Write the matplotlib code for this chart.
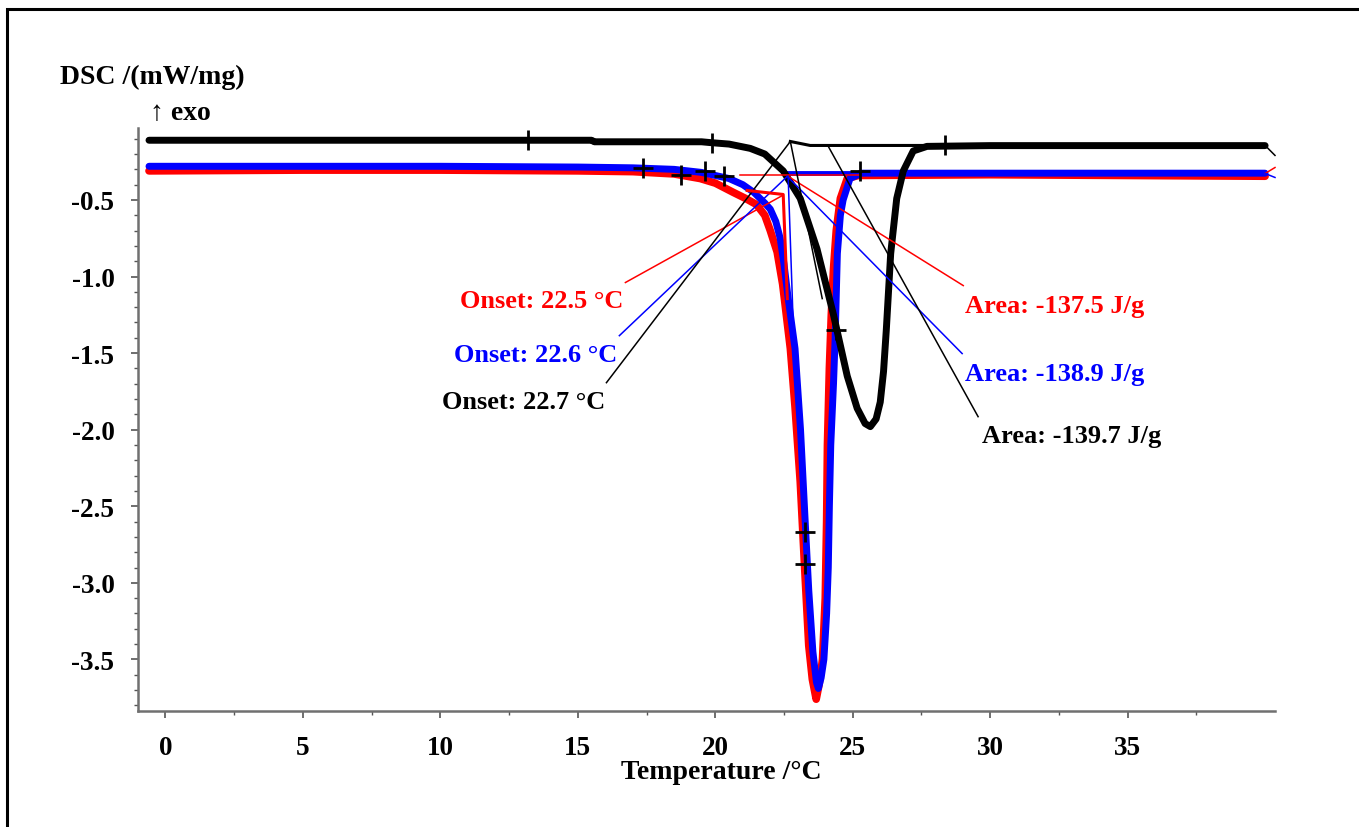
import matplotlib
matplotlib.use("Agg")
import matplotlib.pyplot as plt
from matplotlib.patches import Rectangle
from matplotlib.ticker import MultipleLocator, FixedLocator

plt.rcParams['font.family'] = ['Liberation Serif', 'DejaVu Serif']
plt.rcParams['font.weight'] = 'bold'

# DSC curves (temperature in °C, DSC in mW/mg)
red_t = [-0.6, 5, 10, 15, 17, 18.5, 19.45, 20.0, 20.65, 21.1, 21.5, 21.8, 22.0, 22.25,
         22.45, 22.73, 22.9, 23.09, 23.27, 23.4, 23.53, 23.67, 23.78, 23.9, 24.0, 24.05,
         24.08, 24.15, 24.22, 24.3, 24.4, 24.55, 24.8, 25.2, 30, 35, 40]
red_v = [-0.31, -0.305, -0.305, -0.31, -0.315, -0.33, -0.36, -0.39, -0.45, -0.49, -0.53,
         -0.60, -0.70, -0.84, -1.05, -1.47, -1.85, -2.34, -2.97, -3.41, -3.63, -3.76, -3.66,
         -3.5, -3.1, -2.6, -2.1, -1.6, -1.25, -0.95, -0.7, -0.49, -0.36, -0.34, -0.335,
         -0.34, -0.345]

blue_t = [-0.6, 5, 10, 15, 17, 18.5, 19.5, 20.5, 21.0, 21.4, 21.8, 22.0, 22.2, 22.36, 22.5,
          22.65, 22.9, 23.1, 23.27, 23.4, 23.55, 23.68, 23.75, 23.85, 23.95, 24.05, 24.11,
          24.15, 24.2, 24.3, 24.36, 24.44, 24.55, 24.65, 24.9, 25.3, 30, 35, 40]
blue_v = [-0.28, -0.28, -0.28, -0.285, -0.29, -0.30, -0.32, -0.36, -0.40, -0.45, -0.52,
          -0.56, -0.64, -0.75, -0.92, -1.14, -1.47, -2.0, -2.6, -3.05, -3.45, -3.65, -3.69,
          -3.62, -3.5, -3.2, -2.9, -2.5, -2.1, -1.7, -1.4, -0.85, -0.6, -0.5, -0.36, -0.325,
          -0.325, -0.325, -0.325]

black_t = [-0.6, 10, 15.5, 15.6, 19.5, 19.8, 20.5, 21.27, 21.8, 22.47, 23.09, 23.7, 24.3,
           24.8, 25.16, 25.45, 25.64, 25.85, 26.0, 26.12, 26.22, 26.3, 26.38, 26.6, 26.84,
           27.2, 27.7, 30, 35, 40]
black_v = [-0.11, -0.11, -0.11, -0.12, -0.12, -0.125, -0.135, -0.163, -0.2, -0.31, -0.49,
           -0.82, -1.25, -1.65, -1.86, -1.96, -1.98, -1.93, -1.82, -1.62, -1.35, -1.1,
           -0.85, -0.49, -0.31, -0.18, -0.15, -0.145, -0.145, -0.145]

# evaluation marks ("+")
mark_t = [13.2, 19.89, 28.36, 24.4, 23.27, 23.27, 17.38, 18.76, 19.64, 20.33, 25.27]
mark_v = [-0.111, -0.131, -0.144, -1.346, -2.667, -2.876, -0.294, -0.340, -0.314, -0.346, -0.314]

# construction / leader lines: (t list, v list)
red_lines = [
    ([22.44, 16.73], [-0.471, -1.039]),          # onset leader
    ([22.65, 29.02], [-0.346, -1.059]),          # area leader
    ([20.9, 25.27], [-0.34, -0.34]),
    ([40.0, 40.36], [-0.327, -0.288]),
]
red_tangent_t = [21.16, 22.47, 22.62]
red_tangent_v = [-0.438, -0.464, -1.144]
blue_lines = [
    ([22.62, 16.51], [-0.346, -1.386]),
    ([22.62, 28.98], [-0.346, -1.503]),
    ([22.65, 22.84], [-0.346, -1.34]),
    ([40.0, 40.36], [-0.327, -0.353]),
]
black_lines = [
    ([22.73, 16.04], [-0.118, -1.693]),
    ([24.11, 29.56], [-0.150, -1.915]),
    ([22.73, 23.89], [-0.118, -1.144]),
    ([40.0, 40.36], [-0.144, -0.209]),
]
black_baseline_t = [22.73, 23.45, 28.36]
black_baseline_v = [-0.118, -0.144, -0.144]
blue_baseline_t = [22.62, 25.27]
blue_baseline_v = [-0.327, -0.327]

onset_labels = ["Onset: 22.5 °C", "Onset: 22.6 °C", "Onset: 22.7 °C"]
onset_pos = [(13.67, -1.157), (13.45, -1.51), (13.02, -1.817)]
area_labels = ["Area: -137.5 J/g", "Area: -138.9 J/g", "Area: -139.7 J/g"]
area_pos = [(32.36, -1.19), (32.36, -1.634), (32.95, -2.039)]
label_colors = ["#ff0000", "#0000ff", "#000000"]

RED = "#ff0000"
BLUE = "#0000ff"

fig = plt.figure(figsize=(13.59, 8.28), dpi=100)
ax = fig.add_axes([138 / 1359, 1 - 712 / 828, (1275 - 138) / 1359, (712 - 129) / 828])

curve_kw = dict(solid_capstyle='round', solid_joinstyle='round')
ax.plot(red_t, red_v, color=RED, lw=5.5, zorder=3, **curve_kw)
ax.plot(blue_t, blue_v, color=BLUE, lw=5, zorder=4, **curve_kw)
ax.plot(black_t, black_v, color="black", lw=5, zorder=5, **curve_kw)

for t, v in red_lines:
    ax.plot(t, v, color=RED, lw=1.1, zorder=6, clip_on=False)
for t, v in blue_lines:
    ax.plot(t, v, color=BLUE, lw=1.1, zorder=6, clip_on=False)
for t, v in black_lines:
    ax.plot(t, v, color="black", lw=1.1, zorder=6, clip_on=False)
ax.plot(red_tangent_t, red_tangent_v, color=RED, lw=2.2, zorder=6)
ax.plot(black_baseline_t, black_baseline_v, color="black", lw=2.2, zorder=6)
ax.plot(blue_baseline_t, blue_baseline_v, color=BLUE, lw=3.5, zorder=4)

ax.plot(mark_t, mark_v, ls="none", marker="+", ms=14, mew=2, color="black", zorder=7)

for txt, (x, y), c in zip(onset_labels, onset_pos, label_colors):
    ax.text(x, y, txt, color=c, fontsize=19, fontweight='bold', ha='center', va='center')
for txt, (x, y), c in zip(area_labels, area_pos, label_colors):
    ax.text(x, y, txt, color=c, fontsize=19, fontweight='bold', ha='center', va='center')

ax.set_xlim(-1.0, 40.36)
ax.set_ylim(-3.837, -0.03)
ax.xaxis.set_major_locator(FixedLocator([0, 5, 10, 15, 20, 25, 30, 35]))
ax.xaxis.set_minor_locator(FixedLocator([2.5, 7.5, 12.5, 17.5, 22.5, 27.5, 32.5, 37.5]))
ax.yaxis.set_major_locator(FixedLocator([-0.5, -1.0, -1.5, -2.0, -2.5, -3.0, -3.5]))
ax.yaxis.set_minor_locator(MultipleLocator(0.1))
ax.set_yticklabels(["-0.5", "-1.0", "-1.5", "-2.0", "-2.5", "-3.0", "-3.5"])

for s in ["top", "right"]:
    ax.spines[s].set_visible(False)
for s in ["left", "bottom"]:
    ax.spines[s].set_color("#707070")
    ax.spines[s].set_linewidth(1.8)

ax.tick_params(axis='both', which='major', direction='out', length=5, width=1.2,
               color="#555555", labelsize=19.5, pad=12)
ax.tick_params(axis='both', which='minor', direction='out', length=3, width=1.0,
               color="#555555")
for lab in ax.get_xticklabels() + ax.get_yticklabels():
    lab.set_fontweight('bold')

fig.text(721 / 1359, 1 - 773 / 828, "Temperature /°C", fontsize=20, fontweight='bold',
         ha='center', va='center')
fig.text(152 / 1359, 1 - 77 / 828, "DSC /(mW/mg)", fontsize=20, fontweight='bold',
         ha='center', va='center')
fig.text(180 / 1359, 1 - 114 / 828, "↑ exo", fontsize=20, fontweight='bold',
         ha='center', va='center')

# outer frame
fig.patches.append(Rectangle((7 / 1359, -0.1), 1.2, 1.1 - 10 / 828, transform=fig.transFigure,
                             fill=False, edgecolor="black", lw=2.2))

fig.savefig("out.png", dpi=100)
